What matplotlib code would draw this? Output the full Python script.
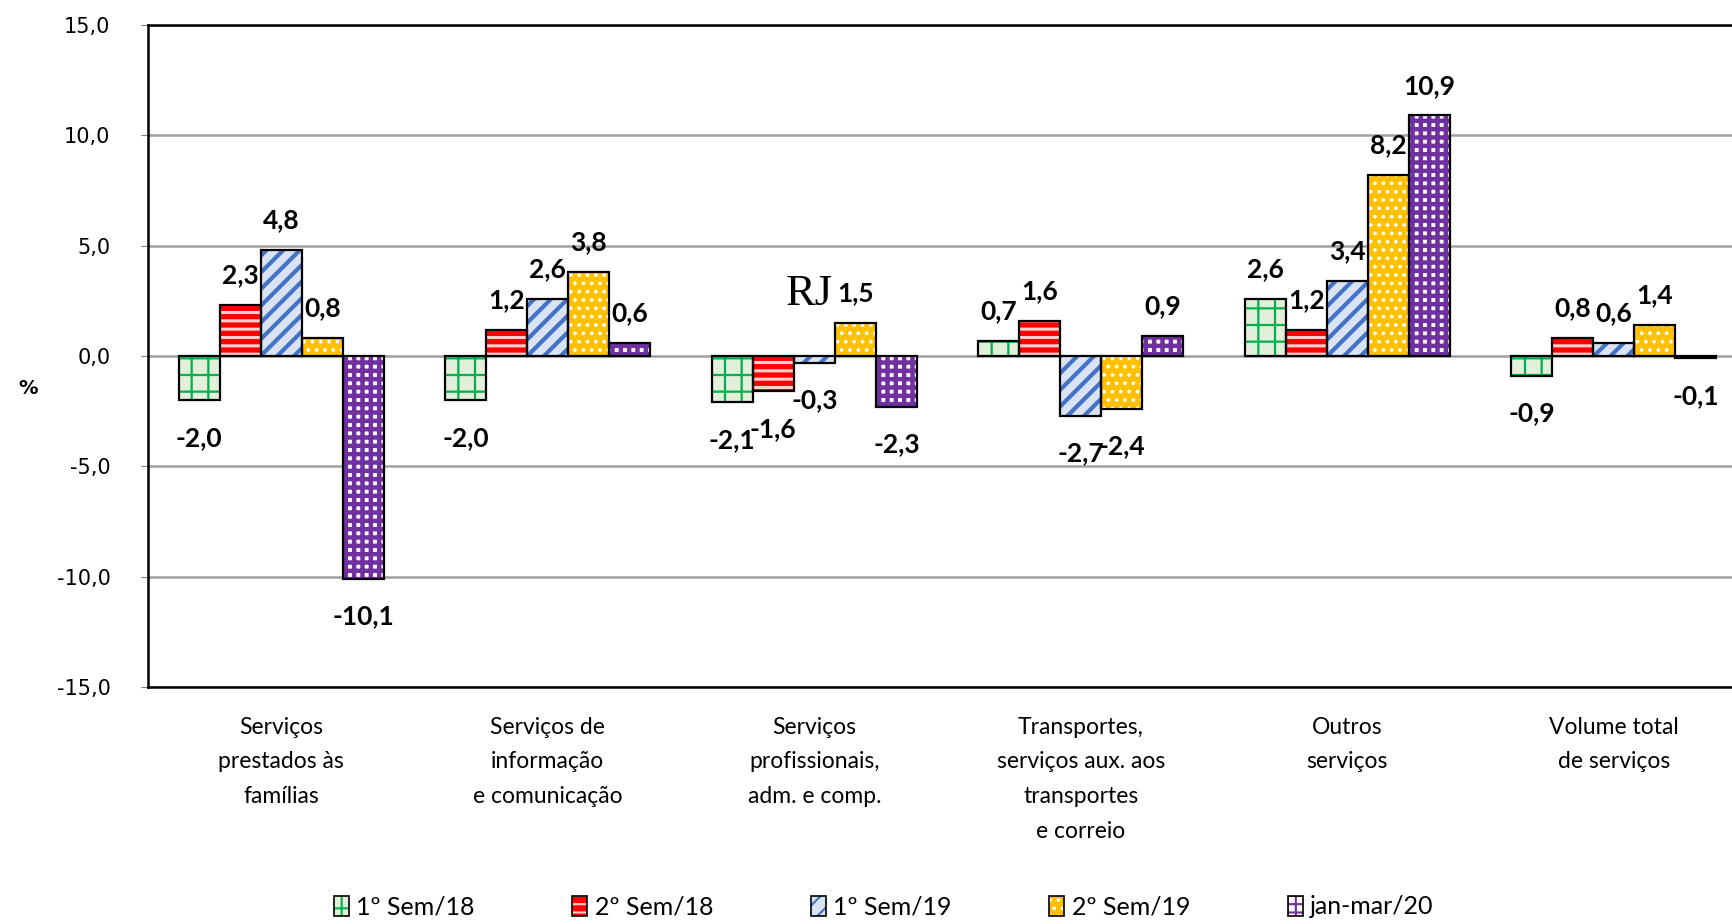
import numpy as np
import matplotlib.pyplot as plt
import matplotlib.patches as mpatches
from matplotlib.legend_handler import HandlerTuple

categories = ["Serviços\nprestados às\nfamílias",
              "Serviços de\ninformação\ne comunicação",
              "Serviços\nprofissionais,\nadm. e comp.",
              "Transportes,\nserviços aux. aos\ntransportes\ne correio",
              "Outros\nserviços",
              "Volume total\nde serviços"]
series_names = ["1º Sem/18", "2º Sem/18", "1º Sem/19", "2º Sem/19", "jan-mar/20"]
sem1_18 = [-2.0, -2.0, -2.1, 0.7, 2.6, -0.9]
sem2_18 = [2.3, 1.2, -1.6, 1.6, 1.2, 0.8]
sem1_19 = [4.8, 2.6, -0.3, -2.7, 3.4, 0.6]
sem2_19 = [0.8, 3.8, 1.5, -2.4, 8.2, 1.4]
janmar_20 = [-10.1, 0.6, -2.3, 0.9, 10.9, -0.1]
yticks = [-15, -10, -5, 0, 5, 10, 15]

values = [sem1_18, sem2_18, sem1_19, sem2_19, janmar_20]
# (face, hatch colour, hatch, hatch linewidth)
styles = [("#E2F0D9", "#00B050", "+", 1.6),
          ("#FF0000", "#FFD0D0", "--", 2.2),
          ("#DAE3F3", "#4472C4", "//", 3.0),
          ("#FFC000", "#FFFFFF", "..", 1.5),
          ("#FFFFFF", "#7030A0", "++", 3.2)]

lbl_font = ["Lato", "DejaVu Sans"]

fig = plt.figure(figsize=(17.33, 9.24), dpi=100)
ax = fig.add_axes([148 / 1733, 1 - 687 / 924, 1 - 148 / 1733, (687 - 25) / 924])

x = np.arange(len(categories))
w = 0.154
handles = []
for i, (vals, st) in enumerate(zip(values, styles)):
    face, hcol, hatch, hlw = st
    pos = x + (i - 2) * w
    plt.rcParams["hatch.linewidth"] = hlw
    ax.bar(pos, vals, w, color=face, edgecolor=hcol, hatch=hatch, linewidth=0, zorder=3)
    ax.bar(pos, vals, w, fill=False, edgecolor="black", linewidth=1.6, zorder=4)
    plt.rcParams["hatch.linewidth"] = min(hlw, 1.5)
    h1 = mpatches.Patch(facecolor=face, edgecolor=hcol, hatch=hatch, linewidth=0)
    h2 = mpatches.Patch(fill=False, edgecolor="black", linewidth=1.2)
    handles.append((h1, h2))
    for px, v in zip(pos, vals):
        off = 1.35 if v >= 0 else -1.7
        ax.text(px, v + off, f"{v:.1f}".replace(".", ","), ha="center", va="center",
                fontsize=19, fontweight="bold", family=lbl_font, zorder=5)

ax.set_xlim(-0.5, 5.447)
ax.set_ylim(-15, 15)
ax.set_yticks(yticks)
ax.set_yticklabels([f"{t:.1f}".replace(".", ",") for t in yticks], fontsize=15)
ax.tick_params(axis="y", length=5, color="#808080", pad=22)
ax.set_xticks([])
ax.yaxis.grid(True, color="#A0A0A0", linewidth=1.8, zorder=0)
ax.set_axisbelow(True)
ax.spines["right"].set_visible(False)
for s in ["left", "top", "bottom"]:
    ax.spines[s].set_linewidth(1.8)
    ax.spines[s].set_color("black")

for xi, c in zip(x, categories):
    ax.text(xi, -16.35, c, ha="center", va="top", fontsize=16.5, family=["Lato", "DejaVu Sans"],
            linespacing=1.8, clip_on=False)

ax.text(1.98, 2.8, "RJ", ha="center", va="center", fontsize=32,
        family=["Liberation Serif", "DejaVu Serif"], zorder=5)
fig.text(28 / 1733, 1 - 389 / 924, "%", ha="center", va="center", fontsize=14, fontweight="bold")

fig.legend(handles, series_names, handler_map={tuple: HandlerTuple(ndivide=1)},
           loc="center", bbox_to_anchor=(0.51, 1 - 907 / 924), ncol=5, frameon=False,
           prop={"family": lbl_font, "size": 18}, handlelength=0.6, handleheight=0.9,
           handletextpad=0.3, columnspacing=3.9)

fig.savefig("out.png", dpi=100)
